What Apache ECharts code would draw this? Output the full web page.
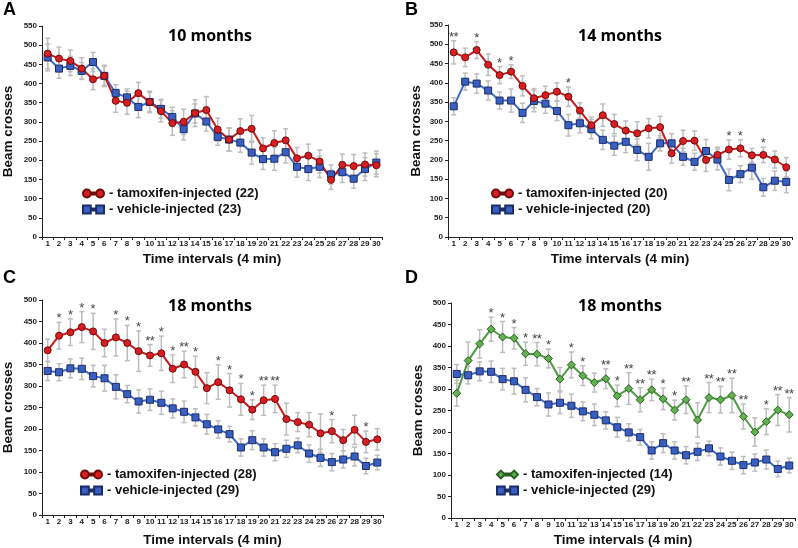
<!DOCTYPE html>
<html><head><meta charset="utf-8">
<script src="https://cdn.jsdelivr.net/npm/echarts@6/dist/echarts.min.js"></script>
<style>html,body{margin:0;padding:0;background:#fff}#c{width:798px;height:548px}</style>
</head><body><div id="c"></div>
<script>
const intervals = ['1','2','3','4','5','6','7','8','9','10','11','12','13','14','15','16','17','18','19','20','21','22','23','24','25','26','27','28','29','30'];

// Panel A - 10 months
const A_tam = [478,465,459,439,411,420,355,350,375,352,328,297,300,323,331,280,254,276,282,231,245,252,205,212,197,149,188,185,189,187];
const A_tamErr = [40,30,28,28,27,28,30,30,28,25,28,32,33,35,35,30,30,32,35,28,32,30,28,30,30,25,28,30,30,30];
const A_veh = [468,439,446,433,456,420,375,364,339,352,334,313,281,322,301,261,254,246,220,203,204,221,183,177,183,163,169,152,177,194];
const A_vehErr = [35,25,25,22,25,25,22,22,28,28,25,25,28,25,25,22,30,25,30,27,30,28,27,30,28,25,27,25,30,30];

// Panel B - 14 months
const B_tam = [479,466,485,447,420,429,392,360,368,377,364,328,290,316,293,276,269,282,285,217,249,250,200,213,227,230,212,213,201,181];
const B_tamErr = [30,24,22,28,22,18,26,25,23,23,25,20,21,29,25,25,30,25,28,25,28,25,30,20,25,22,18,20,22,25];
const B_veh = [339,403,398,380,354,354,322,353,346,327,290,295,280,252,237,247,226,208,243,243,208,195,223,201,148,163,180,129,146,143];
const B_vehErr = [22,22,25,25,22,30,25,28,25,25,28,25,25,25,25,28,28,35,20,25,22,22,30,27,28,22,30,23,25,28];
const B_stars = ['**','','*','','*','*','','','','','*','','','','','','','','','','','','','','*','*','','*','',''];

// Panel C - 18 months
const C_tam = [383,417,425,437,427,400,413,400,381,371,376,340,350,333,295,309,290,269,245,267,270,223,216,210,190,195,174,198,170,176];
const C_tamErr = [26,31,31,36,42,32,43,41,47,25,40,32,31,36,36,40,39,37,23,35,32,37,22,28,45,27,25,34,25,25];
const C_stars = ['','*','*','*','*','','*','*','*','**','*','*','**','*','','*','*','*','*','**','**','','','','','*','','','*',''];

// Vehicle-injected (29), shared by panels C and D
const veh29 = [335,332,341,340,323,318,298,281,264,268,261,248,240,227,211,199,188,157,174,157,146,154,162,143,133,123,129,136,114,122];
const veh29Err = [22,20,22,25,25,30,28,20,27,25,27,22,25,20,23,20,18,20,22,20,20,20,17,20,20,20,20,22,18,17];

// Panel D - 18 months
const D_tam = [290,366,405,439,421,418,382,381,371,323,356,331,315,324,284,301,275,298,277,251,275,228,280,275,285,236,200,224,251,240];
const D_tamErr = [30,43,33,28,36,25,27,27,22,27,30,23,22,23,25,37,28,25,25,23,32,40,35,31,40,29,33,30,36,40];
const D_stars = ['','','','*','*','*','*','**','*','','*','*','','**','*','**','**','**','*','*','**','','**','**','**','**','','*','**','**'];

const panelLetters = ['A','B','C','D'];
const panelTitles = ['10 months','14 months','18 months','18 months'];
const yMax = [550,550,500,500];
const legendNames = [
  ['- tamoxifen-injected (22)','- vehicle-injected (23)'],
  ['- tamoxifen-injected (20)','- vehicle-injected (20)'],
  ['- tamoxifen-injected (28)','- vehicle-injected (29)'],
  ['- tamoxifen-injected (14)','- vehicle-injected (29)']
];

const FONT = '"Liberation Sans", Arial, sans-serif';
const RED = {line:'#c8191f', fill:'#d81e22', border:'#6e0b0b'};
const BLUE = {line:'#3f6bcc', fill:'#3a5fc2', border:'#1b2c66'};
const GREEN = {line:'#4f9a45', fill:'#62b04f', border:'#2a5e24'};

const ICON_CIRCLE = 'path://M0,5A5,5 0 1,1 10,5A5,5 0 1,1 0,5ZM10,3.8L17,3.8L17,6.2L10,6.2ZM17,5A5,5 0 1,1 27,5A5,5 0 1,1 17,5Z';
const ICON_RECT = 'path://M0,0L10,0L10,10L0,10ZM10,3.8L17,3.8L17,6.2L10,6.2ZM17,0L27,0L27,10L17,10Z';
const ICON_DIAMOND = 'path://M0,5L5,0L10,5L5,10ZM10,3.8L17,3.8L17,6.2L10,6.2ZM17,5L22,0L27,5L22,10Z';

const grids = [
  {left:39, top:26, width:343, height:211},
  {left:448, top:25, width:344, height:212},
  {left:39, top:300, width:344, height:215},
  {left:451, top:303, width:344, height:215}
];
const xNameGap = [15,15,18,15];
const yNameGap = [27,25,27,26];
const titlePos = [[210,28],[620,28],[210,298],[620,298]];
const letterPos = [[3,1],[405,1],[3,269],[405,269]];
const legendPos = [[82,187],[491,187],[80,468],[496,468]];

function errSeries(gi, vals, errs){
  return {
    type:'custom', xAxisIndex:gi, yAxisIndex:gi, z:1, silent:true,
    data: vals.map((v,i)=>[i, v, errs[i]]),
    encode:{x:0, y:1},
    renderItem:(params, api)=>{
      const i=api.value(0), v=api.value(1), e=api.value(2);
      const t=api.coord([i, v+e]), b=api.coord([i, v-e]);
      const w=2.5;
      const st={stroke:'#bdbdbd', lineWidth:1.5};
      return {type:'group', children:[
        {type:'line', shape:{x1:t[0],y1:t[1],x2:b[0],y2:b[1]}, style:st},
        {type:'line', shape:{x1:t[0]-w,y1:t[1],x2:t[0]+w,y2:t[1]}, style:st},
        {type:'line', shape:{x1:b[0]-w,y1:b[1],x2:b[0]+w,y2:b[1]}, style:st}
      ]};
    }
  };
}

function starSeries(gi, stars, a, ae, b, be){
  const data=[], labels=[];
  stars.forEach((s,i)=>{ if(s){ data.push([i, Math.max(a[i]+ae[i], b[i]+be[i])]); labels.push(s); } });
  return {
    type:'custom', xAxisIndex:gi, yAxisIndex:gi, z:5, silent:true,
    data, encode:{x:0, y:1},
    renderItem:(params, api)=>{
      const p=api.coord([api.value(0), api.value(1)]);
      const n=labels[params.dataIndex].length;
      const children=[];
      for(let k=0;k<n;k++){
        const dx = n===1 ? 0 : (k===0 ? -2.3 : 2.3);
        children.push({type:'text', x:p[0]+dx, y:p[1]+3, style:{text:'*', align:'center', verticalAlign:'bottom', fill:'#444', font:'13px ' + FONT}});
      }
      return {type:'group', children};
    }
  };
}

function lineSeries(gi, name, vals, c, symbol, size){
  return {
    type:'line', name, xAxisIndex:gi, yAxisIndex:gi, data:vals, symbol, symbolSize:size,
    lineStyle:{color:c.line, width:2}, itemStyle:{color:c.fill, borderColor:c.border, borderWidth:1},
    z:3, emphasis:{disabled:true}
  };
}

const panels = [
  {tam:A_tam, tamErr:A_tamErr, veh:A_veh, vehErr:A_vehErr, stars:null, col:RED, sym:'circle', size:7, icon:ICON_CIRCLE},
  {tam:B_tam, tamErr:B_tamErr, veh:B_veh, vehErr:B_vehErr, stars:B_stars, col:RED, sym:'circle', size:7, icon:ICON_CIRCLE},
  {tam:C_tam, tamErr:C_tamErr, veh:veh29, vehErr:veh29Err, stars:C_stars, col:RED, sym:'circle', size:7, icon:ICON_CIRCLE},
  {tam:D_tam, tamErr:D_tamErr, veh:veh29, vehErr:veh29Err, stars:D_stars, col:GREEN, sym:'diamond', size:8, icon:ICON_DIAMOND}
];

const option = {animation:false, backgroundColor:'#fff', grid:grids, xAxis:[], yAxis:[], series:[], title:[], legend:[]};

panels.forEach((p, gi)=>{
  option.xAxis.push({
    type:'category', gridIndex:gi, data:intervals, boundaryGap:true,
    name:'Time intervals (4 min)', nameLocation:'middle', nameGap:xNameGap[gi],
    nameTextStyle:{fontFamily:FONT, fontWeight:'bold', fontSize:13.5, color:'#111'},
    axisLine:{lineStyle:{color:'#222', width:1}},
    axisTick:{show:true, length:3, lineStyle:{color:'#222'}},
    axisLabel:{interval:0, fontFamily:FONT, fontWeight:'bold', fontSize:8, color:'#222', margin:3},
    splitLine:{show:false}
  });
  option.yAxis.push({
    type:'value', gridIndex:gi, min:0, max:yMax[gi], interval:50,
    name:'Beam crosses', nameLocation:'middle', nameGap:yNameGap[gi],
    nameTextStyle:{fontFamily:FONT, fontWeight:'bold', fontSize:13.5, color:'#111'},
    axisLine:{show:true, lineStyle:{color:'#222', width:1}},
    axisTick:{show:true, length:3, lineStyle:{color:'#222'}},
    axisLabel:{fontFamily:FONT, fontWeight:'bold', fontSize:8, color:'#222', margin:5},
    splitLine:{show:false}
  });
  option.series.push(errSeries(gi, p.veh, p.vehErr));
  option.series.push(errSeries(gi, p.tam, p.tamErr));
  option.series.push(lineSeries(gi, legendNames[gi][1], p.veh, BLUE, 'rect', 7));
  option.series.push(lineSeries(gi, legendNames[gi][0], p.tam, p.col, p.sym, p.size));
  if(p.stars) option.series.push(starSeries(gi, p.stars, p.tam, p.tamErr, p.veh, p.vehErr));
  option.title.push({text:panelLetters[gi], left:letterPos[gi][0], top:letterPos[gi][1], padding:0,
    textStyle:{fontFamily:FONT, fontWeight:'bold', fontSize:18, color:'#000'}});
  option.title.push({text:panelTitles[gi], left:titlePos[gi][0], top:titlePos[gi][1], textAlign:'center', padding:0,
    textStyle:{fontFamily:'"Open Sans", sans-serif', fontWeight:'bold', fontSize:16, color:'#000'}});
  option.legend.push({
    orient:'vertical', left:legendPos[gi][0], top:legendPos[gi][1], padding:0, itemGap:3,
    itemWidth:21, itemHeight:8, selectedMode:false,
    textStyle:{fontFamily:FONT, fontWeight:'bold', fontSize:13, color:'#111'},
    data:[{name:legendNames[gi][0], icon:p.icon}, {name:legendNames[gi][1], icon:ICON_RECT}]
  });
});

const chart = echarts.init(document.getElementById('c'), null, {renderer:'canvas'});
chart.setOption(option);
</script>
</body></html>
